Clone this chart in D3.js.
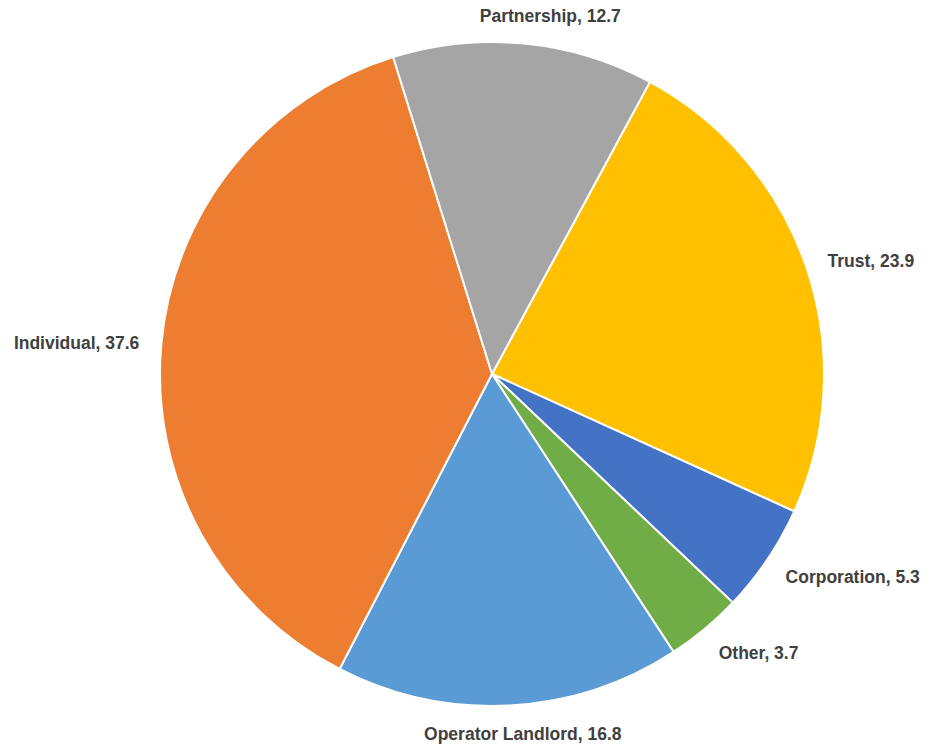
<!DOCTYPE html>
<html>
<head>
<meta charset="utf-8">
<script src="https://cdn.jsdelivr.net/npm/d3@7"></script>
<style>
  body { margin: 0; background: #fff; }
</style>
</head>
<body>
<svg id="chart" width="927" height="744"></svg>
<script>
const categories = ["Trust", "Corporation", "Other", "Operator Landlord", "Individual", "Partnership"];
const values = [23.9, 5.3, 3.7, 16.8, 37.6, 12.7];
const colors = ["#FFC000", "#4472C4", "#70AD47", "#5B9BD5", "#ED7D31", "#A5A5A5"];

const W = 927, H = 744;
const cx = 492, cy = 374, R = 332;
// first slice (Trust) begins a bit past 12 o'clock
const START = 28.4 * Math.PI / 180;
const FONT_SIZE = 17.5;

const data = categories.map((c, i) => ({name: c, value: values[i], color: colors[i]}));

let svg = d3.select("#chart");
let g = svg.append("g").attr("transform", `translate(${cx},${cy})`);

let pie = d3.pie()
    .sort(null)
    .value(d => d.value)
    .startAngle(START)
    .endAngle(START + 2 * Math.PI);

let arc = d3.arc().innerRadius(0).outerRadius(R);
let labelArc = d3.arc().innerRadius(R + 22).outerRadius(R + 22);

let arcs = pie(data);

g.selectAll("path.slice")
    .data(arcs)
    .enter().append("path")
    .attr("class", "slice")
    .attr("d", arc)
    .attr("fill", d => d.data.color)
    .attr("stroke", "#fff")
    .attr("stroke-width", 2);

let midAngle = d => (d.startAngle + d.endAngle) / 2;

// labels sit just outside the rim, aligned away from the pie
g.selectAll("text.label")
    .data(arcs)
    .enter().append("text")
    .attr("class", "label")
    .attr("transform", d => {
        let [x, y] = labelArc.centroid(d);
        let s = Math.sin(midAngle(d));
        // top/bottom labels get pushed sideways a bit, like excel does
        if (Math.abs(s) <= 0.3) x += 250 * s;
        return `translate(${x},${y})`;
    })
    .attr("text-anchor", d => {
        let s = Math.sin(midAngle(d));
        return s > 0.3 ? "start" : s < -0.3 ? "end" : "middle";
    })
    .attr("dy", d => {
        let c = Math.cos(midAngle(d));
        if (c > 0.9) return 0;
        if (c < -0.9) return 0.72 * FONT_SIZE;
        return 0.35 * FONT_SIZE + Math.max(0, -c) * 9;
    })
    .attr("font-family", "'Liberation Sans', Arial, sans-serif")
    .attr("font-weight", "bold")
    .attr("font-size", FONT_SIZE + "px")
    .attr("fill", "#404040")
    .text(d => `${d.data.name}, ${d.data.value}`);
</script>
</body>
</html>
